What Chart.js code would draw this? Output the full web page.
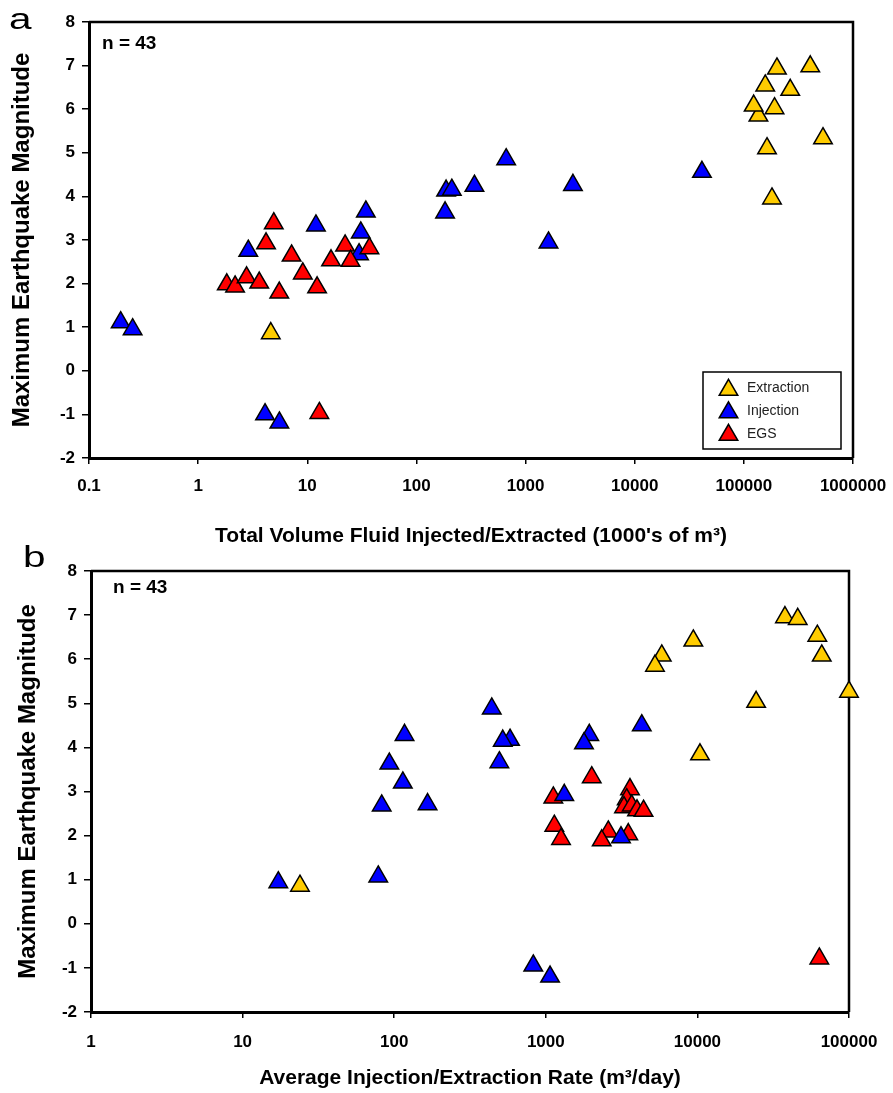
<!DOCTYPE html>
<html>
<head>
<meta charset="utf-8">
<script src="https://cdn.jsdelivr.net/npm/chart.js@4.4.1/dist/chart.umd.min.js"></script>
<style>
  body { margin: 0; background: #fff; width: 893px; height: 1093px; overflow: hidden; position: relative; }
  canvas { position: absolute; left: 0; }
  #volumeChart { top: 0; }
  #rateChart { top: 545px; }
</style>
</head>
<body>
<canvas id="volumeChart" width="893" height="548"></canvas>
<canvas id="rateChart" width="893" height="548"></canvas>
<script>
// (a) total volume injected/extracted, 1000's of m3
const volExtractionX = [201000, 406000, 157000, 266000, 136000, 123000, 191000, 531000, 163000, 181000, 4.63];
const volExtractionM = [6.93, 6.98, 6.54, 6.44, 5.85, 6.08, 6.02, 5.33, 5.10, 3.95, 0.86];
const volInjectionX = [0.195, 0.251, 4.10, 5.55, 2.88, 12.0, 34.4, 30.9, 29.8, 664, 187, 211, 340, 183, 2716, 1622, 41300];
const volInjectionM = [1.11, 0.95, -1.00, -1.19, 2.75, 3.33, 3.65, 3.17, 2.67, 4.85, 4.13, 4.15, 4.24, 3.63, 4.26, 2.94, 4.56];
const volEgsX = [4.93, 4.19, 7.18, 9.10, 12.3, 5.54, 1.83, 2.18, 2.78, 3.63, 16.5, 22.2, 24.9, 37.1, 12.9];
const volEgsM = [3.38, 2.92, 2.64, 2.23, 1.91, 1.79, 1.98, 1.93, 2.14, 2.02, 2.53, 2.87, 2.52, 2.81, -0.97];

// (b) average injection/extraction rate, m3/day
const rateExtractionX = [37800, 45900, 61800, 66100, 9400, 5820, 5250, 24400, 100000, 10400, 23.9];
const rateExtractionM = [6.95, 6.91, 6.53, 6.08, 6.42, 6.08, 5.85, 5.03, 5.26, 3.84, 0.86];
const rateInjectionX = [440, 117, 581, 520, 494, 92.9, 114, 82.7, 166, 1324, 4295, 1936, 1786, 17.2, 78.5, 3133, 827, 1067];
const rateInjectionM = [4.88, 4.28, 4.17, 4.15, 3.66, 3.63, 3.20, 2.68, 2.71, 2.92, 4.50, 4.28, 4.09, 0.94, 1.07, 1.96, -0.95, -1.20];
const rateEgsX = [2009, 1121, 1138, 1260, 3592, 3418, 3280, 3687, 3997, 4413, 2584, 2338, 3500, 63700];
const rateEgsM = [3.32, 2.86, 2.22, 1.92, 3.05, 2.82, 2.64, 2.68, 2.57, 2.56, 2.09, 1.89, 2.03, -0.79];

const volumeTicks = [0.1, 1, 10, 100, 1000, 10000, 100000, 1000000];
const rateTicks = [1, 10, 100, 1000, 10000, 100000];
const magnitudeTicks = [-2, -1, 0, 1, 2, 3, 4, 5, 6, 7, 8];
const seriesNames = ['Extraction', 'Injection', 'EGS'];
const sampleCount = 43;

const seriesColors = ['#FFCC00', '#0000FF', '#FF0000'];
const FONT = "'Liberation Sans', Arial, Helvetica, sans-serif";

function pairs(xs, ys) {
    return xs.map((x, i) => ({ x: x, y: ys[i] }));
}

// plot box top/right edges, panel letter, n label and the inset legend
const framePlugin = {
    id: 'frame',
    beforeDatasetsDraw(chart) {
        const ctx = chart.ctx, a = chart.chartArea;
        ctx.save();
        ctx.strokeStyle = '#000';
        ctx.lineWidth = 2.5;
        ctx.beginPath();
        ctx.moveTo(a.left, a.top);
        ctx.lineTo(a.right, a.top);
        ctx.lineTo(a.right, a.bottom);
        ctx.stroke();
        ctx.restore();
    },
    afterDraw(chart, args, opts) {
        const ctx = chart.ctx, a = chart.chartArea;
        ctx.save();
        ctx.fillStyle = '#000';
        ctx.textBaseline = 'alphabetic';
        ctx.textAlign = 'left';
        // the panel letter is set in a wide face
        ctx.save();
        ctx.translate(opts.letterX, opts.letterY);
        ctx.scale(1.35, 1);
        ctx.font = '30px ' + FONT;
        ctx.fillText(opts.letter, 0, 0);
        ctx.restore();

        ctx.font = 'bold 19px ' + FONT;
        ctx.fillText('n = ' + sampleCount, a.left + opts.nX, a.top + opts.nY);

        if (opts.legend) {
            const lg = opts.legend;
            const x0 = a.right - lg.right, y0 = a.bottom - lg.bottom;
            ctx.lineWidth = 1.5;
            ctx.strokeStyle = '#000';
            ctx.strokeRect(x0, y0, lg.width, lg.height);
            ctx.font = '14px ' + FONT;
            ctx.textBaseline = 'middle';
            chart.data.datasets.forEach((ds, i) => {
                ctx.fillStyle = ds.backgroundColor;
                ctx.strokeStyle = ds.borderColor;
                ctx.lineWidth = ds.borderWidth;
                Chart.helpers.drawPoint(ctx, { pointStyle: 'triangle', radius: ds.pointRadius, rotation: 0, borderWidth: ds.borderWidth },
                    x0 + 25.5, y0 + 18 + i * 22.5);
                ctx.fillStyle = '#222';
                ctx.fillText(ds.label, x0 + 44, y0 + 16 + i * 23);
            });
        }
        ctx.restore();
    }
};

function buildChart(canvasId, series, panel) {
    const datasets = series.map((s, i) => ({
        label: seriesNames[i],
        data: s,
        pointStyle: 'triangle',
        pointRadius: 10.7,
        pointHoverRadius: 10.7,
        backgroundColor: seriesColors[i],
        borderColor: '#000',
        borderWidth: 1.5,
        order: panel.order[i],
        clip: false
    }));
    const tickFont = { family: FONT, size: 17, weight: 'bold' };
    return new Chart(document.getElementById(canvasId).getContext('2d'), {
        type: 'scatter',
        data: { datasets: datasets },
        plugins: [framePlugin],
        options: {
            responsive: false,
            animation: false,
            devicePixelRatio: 1,
            layout: { padding: { top: panel.top, right: panel.right, left: 0, bottom: 0 } },
            plugins: {
                legend: { display: false },
                tooltip: { enabled: false },
                frame: panel.frame
            },
            scales: {
                x: {
                    type: 'logarithmic',
                    min: panel.xTicks[0],
                    max: panel.xTicks[panel.xTicks.length - 1],
                    afterBuildTicks: scale => { scale.ticks = panel.xTicks.map(v => ({ value: v })); },
                    afterFit: scale => { scale.height = panel.xHeight; scale.paddingLeft = 0; scale.paddingRight = 0; },
                    ticks: { color: '#000', font: tickFont, padding: panel.xPad, maxRotation: 0, autoSkip: false,
                             callback: v => String(v) },
                    grid: { drawOnChartArea: false, tickLength: 6, color: '#000', lineWidth: 1.5 },
                    border: { color: '#000', width: 3 },
                    title: { display: true, text: panel.xTitle, color: '#000',
                             font: { family: FONT, size: 21, weight: 'bold' }, padding: { top: 0, bottom: panel.xTitlePad } }
                },
                y: {
                    min: magnitudeTicks[0],
                    max: magnitudeTicks[magnitudeTicks.length - 1],
                    afterBuildTicks: scale => { scale.ticks = magnitudeTicks.map(v => ({ value: v })); },
                    afterFit: scale => { scale.width = panel.yWidth; scale.paddingTop = 0; scale.paddingBottom = 0; },
                    ticks: { color: '#000', font: tickFont, padding: 7 },
                    grid: { drawOnChartArea: false, tickLength: 7, color: '#000', lineWidth: 1.5 },
                    border: { color: '#000', width: 3 },
                    title: { display: true, text: 'Maximum Earthquake Magnitude', color: '#000',
                             font: { family: FONT, size: 24, weight: 'bold' }, padding: { top: panel.yTitlePad, bottom: 0 } }
                }
            }
        }
    });
}

buildChart('volumeChart', [
    pairs(volExtractionX, volExtractionM),
    pairs(volInjectionX, volInjectionM),
    pairs(volEgsX, volEgsM)
], {
    xTicks: volumeTicks,
    xTitle: "Total Volume Fluid Injected/Extracted (1000's of m³)",
    order: [2, 1, 0],
    top: 22, right: 40, xHeight: 90, yWidth: 89,
    xPad: 12, xTitlePad: -1, yTitlePad: 8,
    frame: { letter: 'a', letterX: 9, letterY: 29, nX: 13, nY: 27,
             legend: { right: 150, bottom: 86, width: 138, height: 77 } }
});

buildChart('rateChart', [
    pairs(rateExtractionX, rateExtractionM),
    pairs(rateInjectionX, rateInjectionM),
    pairs(rateEgsX, rateEgsM)
], {
    xTicks: rateTicks,
    xTitle: 'Average Injection/Extraction Rate (m³/day)',
    order: [2, 0, 1],
    top: 26, right: 44, xHeight: 81, yWidth: 91,
    xPad: 14, xTitlePad: 2, yTitlePad: 14,
    frame: { letter: 'b', letterX: 23, letterY: 22, nX: 22, nY: 22, legend: null }
});
</script>
</body>
</html>
